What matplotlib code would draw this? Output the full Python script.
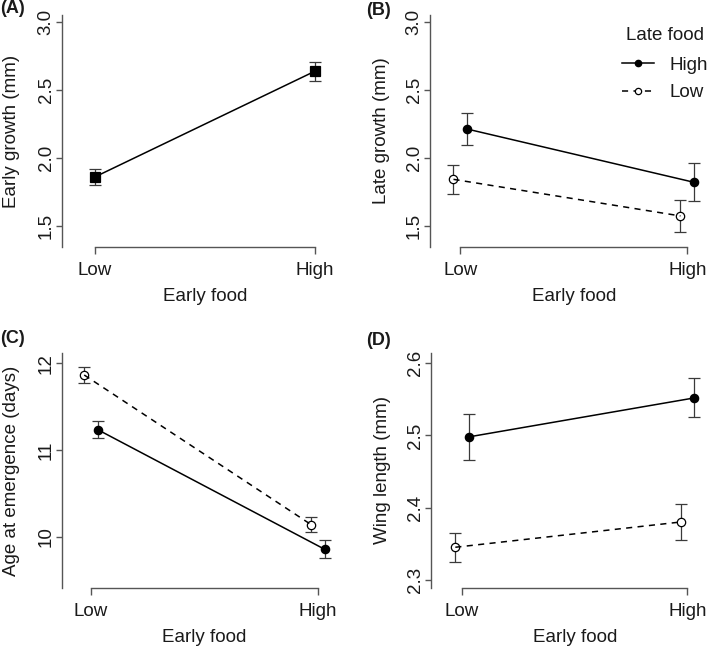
import numpy as np
import matplotlib
matplotlib.use('Agg')
import matplotlib.pyplot as plt
import matplotlib.transforms as mtransforms
from matplotlib.lines import Line2D

plt.rcParams['font.family'] = ['Liberation Sans', 'DejaVu Sans']

# Data (mean and standard error)
early_food = ['Low', 'High']
late_food = ['High', 'Low']

early_growth = [1.86, 2.64]
early_growth_se = [0.06, 0.07]

late_growth_high = [2.213, 1.82]
late_growth_high_se = [0.12, 0.14]
late_growth_low = [1.842, 1.572]
late_growth_low_se = [0.107, 0.118]

age_high = [11.234, 9.855]
age_high_se = [0.10, 0.105]
age_low = [11.865, 10.14]
age_low_se = [0.09, 0.09]

wing_high = [2.498, 2.552]
wing_high_se = [0.032, 0.027]
wing_low = [2.345, 2.38]
wing_low_se = [0.02, 0.025]

W, H = 709, 648
AX_COL = '#555555'
ERR_COL = '#3a3a3a'
TXT_COL = '#1a1a1a'
FS = 13.5


def px_axes(fig, left, top, right, bottom):
    return fig.add_axes([left / W, 1 - bottom / H, (right - left) / W, (bottom - top) / H])


def style_axes(ax, ylabel, yticks, xlim, ylim, panel, ylab_px):
    ax.set_xlim(*xlim)
    ax.set_ylim(*ylim)
    ax.spines['top'].set_visible(False)
    ax.spines['right'].set_visible(False)
    for s in ('left', 'bottom'):
        ax.spines[s].set_color(AX_COL)
        ax.spines[s].set_linewidth(1.0)
    ax.spines['bottom'].set_bounds(1, 2)
    ax.set_xticks([1, 2])
    ax.set_xticklabels(early_food)
    ax.set_yticks(yticks)
    ax.set_yticklabels(['%g' % t if t >= 10 else '%.1f' % t for t in yticks])
    ax.tick_params(axis='x', direction='out', length=5, width=1.0, color=AX_COL,
                   labelsize=FS, labelcolor=TXT_COL, pad=5.5)
    ax.tick_params(axis='y', direction='out', length=4.3, width=1.0, color=AX_COL,
                   labelsize=FS, labelcolor=TXT_COL, pad=1)
    for lab in ax.get_yticklabels():
        lab.set_rotation(90)
        lab.set_va('center')
        lab.set_ha('right')
    ax.set_ylabel(ylabel, fontsize=FS, color=TXT_COL)
    bb = ax.get_position()
    ax.yaxis.set_label_coords(ylab_px / (bb.width * W), 0.5)
    ax.set_xlabel('Early food', fontsize=FS, color=TXT_COL)
    tr = mtransforms.blended_transform_factory(ax.transData, ax.transAxes)
    ax.xaxis.set_label_coords(1.5, -41 / (bb.height * H), transform=tr)
    ax.set_facecolor('none')
    fig = ax.figure
    fig.text(panel[1] / W, 1 - panel[2] / H, panel[0], fontsize=13,
             fontweight='bold', ha='left', va='top', color=TXT_COL)


def draw_series(ax, x, y, se, filled, dashed, marker='o', ms=6):
    ax.errorbar(x, y, yerr=se, fmt='none', ecolor=ERR_COL, elinewidth=0.9,
                capsize=4.3, capthick=0.9, zorder=2)
    ax.plot(x, y, linestyle='none', marker=marker, ms=ms,
            mfc='black' if filled else 'white', mec='black', mew=0.9, zorder=3)
    ax.plot(x, y, color='black', lw=1.1,
            linestyle=(0, (4, 3.5)) if dashed else '-', zorder=4)


fig = plt.figure(figsize=(W / 100, H / 100), dpi=100)
x = np.array([1.0, 2.0])
d = 0.03

# (A)
axA = px_axes(fig, 62, 15, 345, 247)
draw_series(axA, x, early_growth, early_growth_se, True, False, marker='s', ms=6.7)
style_axes(axA, 'Early growth (mm)', [1.5, 2.0, 2.5, 3.0], (0.85, 2.136),
           (1.343, 3.054), ('(A)', 0, 0), -42)

# (B)
axB = px_axes(fig, 430, 15, 705, 247)
draw_series(axB, x + d, late_growth_high, late_growth_high_se, True, False)
draw_series(axB, x - d, late_growth_low, late_growth_low_se, False, True)
style_axes(axB, 'Late growth (mm)', [1.5, 2.0, 2.5, 3.0], (0.8665, 2.078),
           (1.343, 3.054), ('(B)', 366, 2), -40)
handles = [Line2D([], [], color='black', lw=1.1, marker='o', ms=4.5, mfc='black', mec='black'),
           Line2D([], [], color='black', lw=1.1, linestyle=(0, (4, 3.5)), marker='o', ms=4.5,
                  mfc='white', mec='black', mew=0.9)]
leg = axB.legend(handles, late_food, title='Late food', frameon=False, fontsize=FS,
                 title_fontsize=FS, loc='upper right',
                 bbox_to_anchor=(721 / W, 1 - 14 / H), bbox_transform=fig.transFigure,
                 handlelength=1.75, handletextpad=0.8, labelspacing=0.55, borderpad=0.2)
leg._legend_box.sep = 9
for t in leg.get_texts():
    t.set_color(TXT_COL)
leg.get_title().set_color(TXT_COL)

# (C)
axC = px_axes(fig, 62, 353, 345, 588)
draw_series(axC, x + d, age_high, age_high_se, True, False)
draw_series(axC, x - d, age_low, age_low_se, False, True)
style_axes(axC, 'Age at emergence (days)', [10, 11, 12], (0.872, 2.12),
           (9.408, 12.119), ('(C)', 0, 330), -42)

# (D)
axD = px_axes(fig, 431, 353, 705, 588)
draw_series(axD, x + d, wing_high, wing_high_se, True, False)
draw_series(axD, x - d, wing_low, wing_low_se, False, True)
style_axes(axD, 'Wing length (mm)', [2.3, 2.4, 2.5, 2.6], (0.862, 2.078),
           (2.2885, 2.6143), ('(D)', 366, 332), -40)

fig.savefig('out.png', dpi=100)
